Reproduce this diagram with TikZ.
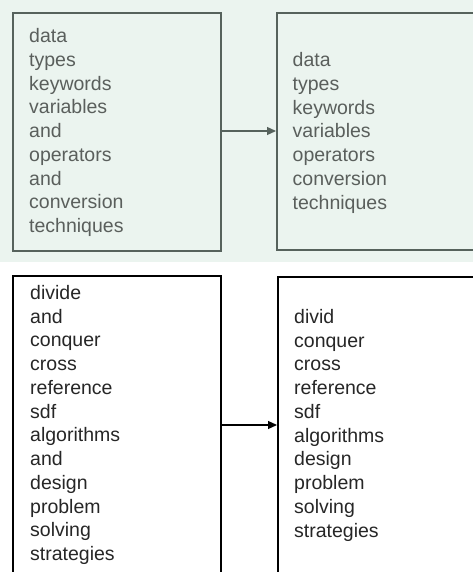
\documentclass[tikz,border=0pt]{standalone}
\usepackage{fontspec}
\setmainfont{Liberation Sans}
\usetikzlibrary{arrows.meta}
\definecolor{mint}{HTML}{EBF4EF}
\definecolor{topline}{HTML}{56625C}
\definecolor{toptext}{HTML}{5A5F5C}
\definecolor{bottext}{HTML}{262626}
\tikzset{
  box/.style={draw, line width=2.2pt, inner sep=0pt, anchor=north west},
  topbox/.style={box, draw=topline},
  botbox/.style={box, draw=black},
  label/.style={anchor=base west, inner sep=0pt, font=\fontsize{19.5}{23.75}\selectfont},
  conn/.style={line width=1.2pt, -{Triangle[length=9pt,width=8pt]}},
}
\newcommand{\lines}[1]{\begin{tabular}[t]{@{}l@{}}#1\end{tabular}}
\begin{document}
\begin{tikzpicture}[x=1pt,y=-1pt]
\useasboundingbox (0,0) rectangle (473,572);
\fill[mint] (0,0) rectangle (473,262);
% boxes
\node[topbox, minimum width=208pt, minimum height=238pt] (b1) at (12,12) {};
\node[topbox, minimum width=220pt, minimum height=237pt] (b2) at (276,12) {};
\node[botbox, minimum width=208pt, minimum height=320pt] (b3) at (12,275) {};
\node[botbox, minimum width=220pt, minimum height=320pt] (b4) at (277,276) {};
% texts
\node[label, text=toptext] (t1) at (29,42.7) {\lines{data\\types\\keywords\\variables\\and\\operators\\and\\conversion\\techniques}};
\node[label, text=toptext] (t2) at (292.5,66.7) {\lines{data\\types\\keywords\\variables\\operators\\conversion\\techniques}};
\node[label, text=bottext] (t3) at (30,299.3) {\lines{divide\\and\\conquer\\cross\\reference\\sdf\\algorithms\\and\\design\\problem\\solving\\strategies}};
\node[label, text=bottext] (t4) at (294,323.3) {\lines{divid\\conquer\\cross\\reference\\sdf\\algorithms\\design\\problem\\solving\\strategies}};
% connectors
\coordinate (a1) at (220,131);
\coordinate (a2) at (276,131);
\coordinate (a3) at (220,425);
\coordinate (a4) at (277,425);
\draw[conn, draw=topline, fill=topline] (b1.east |- a1) -- (b2.west |- a2);
\draw[conn] (b3.east |- a3) -- (b4.west |- a4);
\end{tikzpicture}
\end{document}
